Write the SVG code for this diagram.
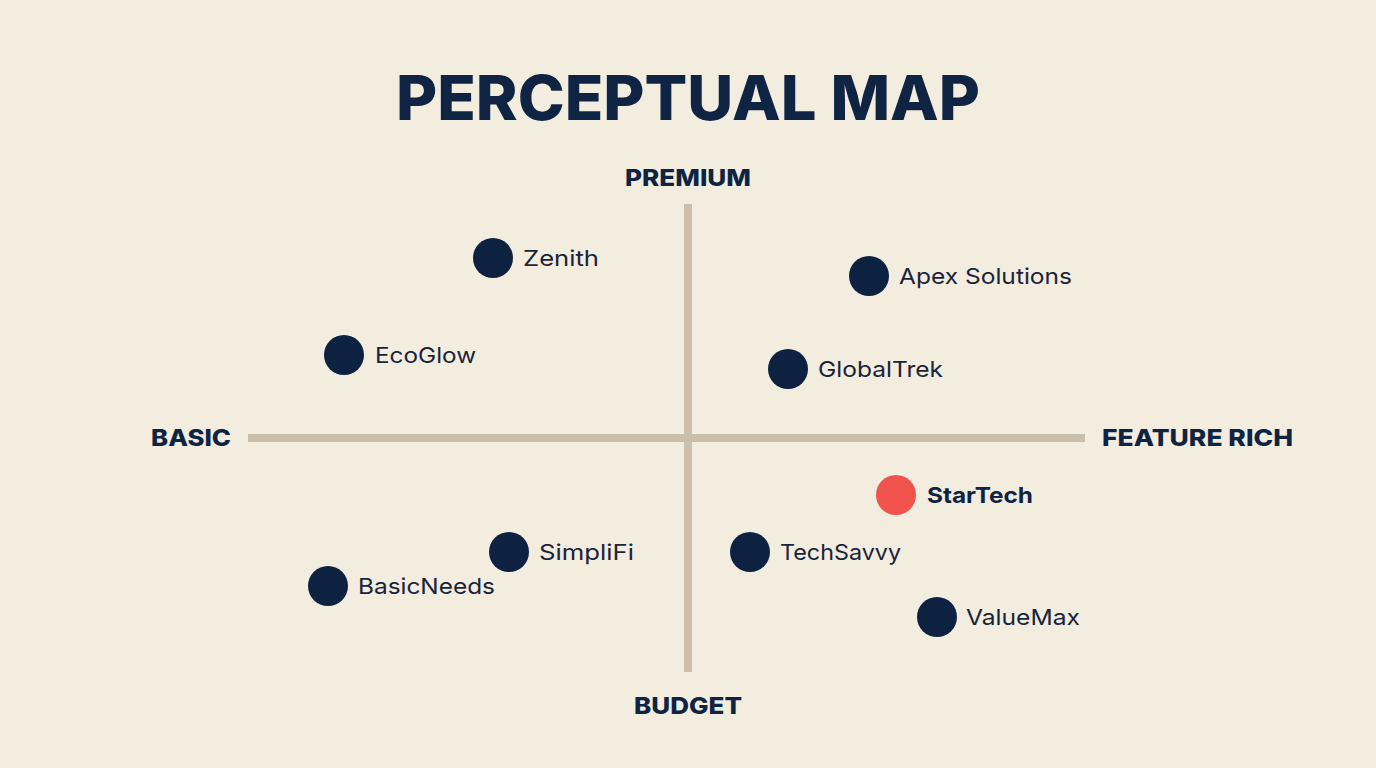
<svg xmlns="http://www.w3.org/2000/svg" width="1376" height="768" viewBox="0 0 1376 768">
<style>
.title{font-family:Inter,"Open Sans","Liberation Sans",sans-serif;font-weight:800;font-size:62px;fill:#0f2443}
.ax{font-family:Inter,"Open Sans","Liberation Sans",sans-serif;font-weight:800;font-size:23px;fill:#0f2443}
.lbl{font-family:Inter,"Open Sans","Liberation Sans",sans-serif;font-weight:400;font-size:22px;fill:#1a2438}
.lblb{font-family:Inter,"Open Sans","Liberation Sans",sans-serif;font-weight:700;font-size:22px;fill:#0f2443}
.dot{fill:#0d2240}
.red{fill:#f0524c}
.axis{stroke:#c9bfac;stroke-width:8}
</style>
<rect width="1376" height="768" fill="#f3ede0"/>
<text class="title" x="688" y="120" text-anchor="middle" textLength="584" lengthAdjust="spacingAndGlyphs">PERCEPTUAL MAP</text>
<g id="connectors">
<line class="axis" x1="248" y1="438" x2="1085" y2="438"/>
<line class="axis" x1="688" y1="204" x2="688" y2="672"/>
</g>
<g id="axis-labels">
<text class="ax" x="688" y="186" text-anchor="middle" textLength="126" lengthAdjust="spacingAndGlyphs">PREMIUM</text>
<text class="ax" x="688" y="714" text-anchor="middle" textLength="108" lengthAdjust="spacingAndGlyphs">BUDGET</text>
<text class="ax" x="151" y="446" textLength="80" lengthAdjust="spacingAndGlyphs">BASIC</text>
<text class="ax" x="1102" y="446" textLength="191" lengthAdjust="spacingAndGlyphs">FEATURE RICH</text>
</g>
<g id="zenith"><circle class="dot" cx="493" cy="258" r="20"/><text class="lbl" x="523" y="266" textLength="76" lengthAdjust="spacingAndGlyphs">Zenith</text></g>
<g id="apex"><circle class="dot" cx="869" cy="276" r="20"/><text class="lbl" x="899" y="284" textLength="173" lengthAdjust="spacingAndGlyphs">Apex Solutions</text></g>
<g id="ecoglow"><circle class="dot" cx="344" cy="355" r="20"/><text class="lbl" x="375" y="363" textLength="101" lengthAdjust="spacingAndGlyphs">EcoGlow</text></g>
<g id="globaltrek"><circle class="dot" cx="788" cy="369" r="20"/><text class="lbl" x="818" y="377" textLength="125" lengthAdjust="spacingAndGlyphs">GlobalTrek</text></g>
<g id="startech"><circle class="red" cx="896" cy="495" r="20"/><text class="lblb" x="927" y="503" textLength="106" lengthAdjust="spacingAndGlyphs">StarTech</text></g>
<g id="simplifi"><circle class="dot" cx="509" cy="552" r="20"/><text class="lbl" x="539" y="560" textLength="95" lengthAdjust="spacingAndGlyphs">SimpliFi</text></g>
<g id="techsavvy"><circle class="dot" cx="750" cy="552" r="20"/><text class="lbl" x="780" y="560" textLength="121" lengthAdjust="spacingAndGlyphs">TechSavvy</text></g>
<g id="basicneeds"><circle class="dot" cx="328" cy="586" r="20"/><text class="lbl" x="358" y="594" textLength="137" lengthAdjust="spacingAndGlyphs">BasicNeeds</text></g>
<g id="valuemax"><circle class="dot" cx="937" cy="617" r="20"/><text class="lbl" x="966" y="625" textLength="114" lengthAdjust="spacingAndGlyphs">ValueMax</text></g>
</svg>
